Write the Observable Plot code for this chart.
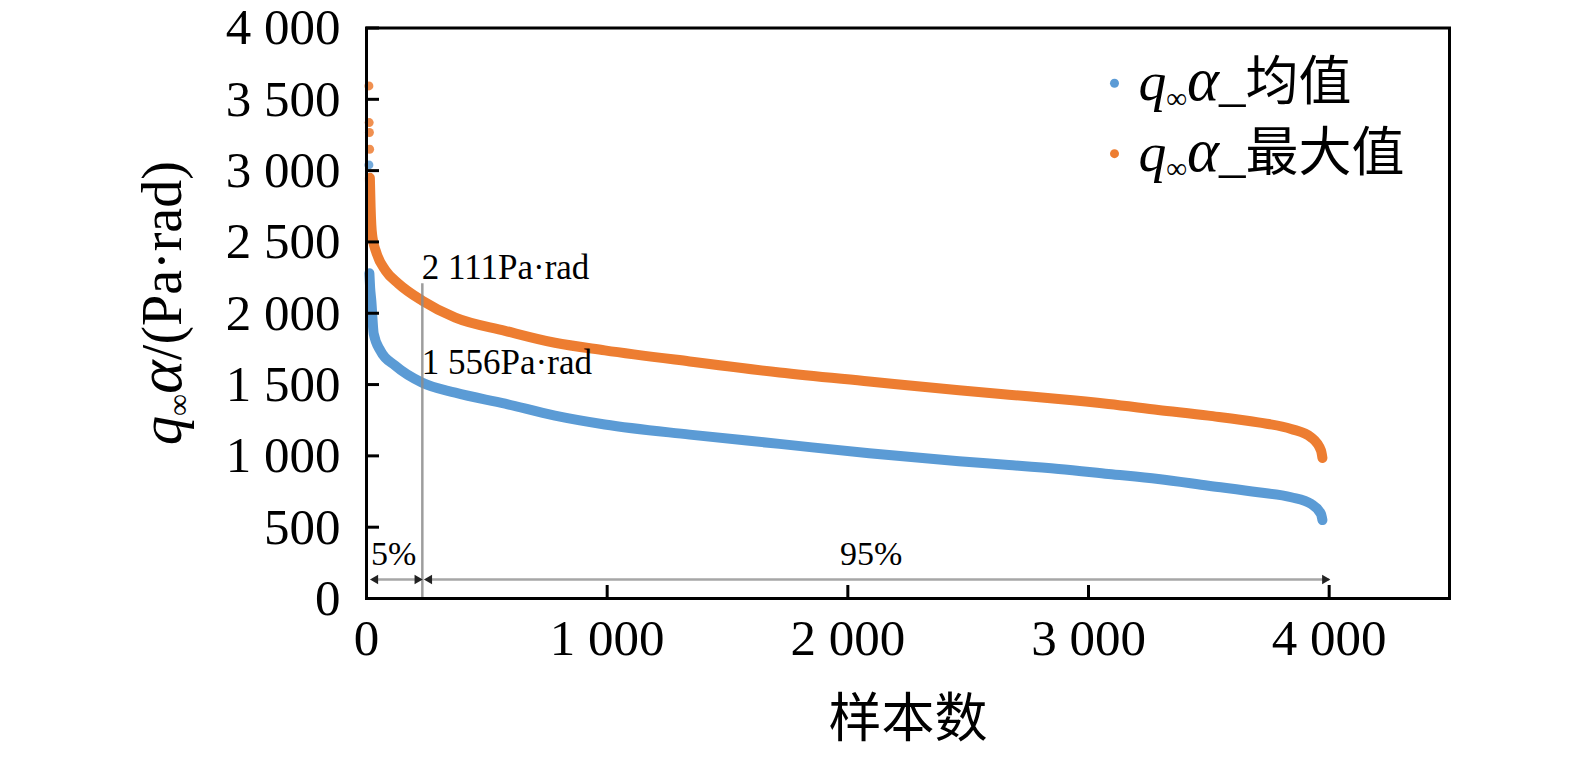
<!DOCTYPE html>
<html><head><meta charset="utf-8">
<script src="https://cdn.jsdelivr.net/npm/d3@7"></script>
<script src="https://cdn.jsdelivr.net/npm/@observablehq/plot@0.6"></script>
<style>body{margin:0;background:#fff}</style>
</head><body><div id="chart"></div>
<script>
// ---- data ----
const maxSamples = [14,17,20,25,40,79,133,232,369,576,783,990,1343,1716,2089,2462,2669,2876,3083,3290,3498,3705,3842,3925,3966,3972];
const maxValues  = [2950,2750,2620,2530,2430,2300,2207,2088,1969,1877,1793,1740,1662,1585,1522,1460,1429,1399,1364,1322,1282,1235,1189,1130,1037,985];
const maxTopSamples = [10,11,12,13];
const maxTopValues  = [3594,3337,3267,3150];

const meanSamples = [12,15,20,30,58,120,232,369,576,783,990,1343,1716,2089,2462,2669,2876,3083,3290,3498,3705,3842,3925,3966,3972];
const meanValues  = [2280,2180,2088,1856,1737,1632,1513,1443,1366,1282,1220,1149,1084,1018,962,936,908,873,838,791,745,710,663,593,550];
const meanTopSamples = [10];
const meanTopValues  = [3040];

const xTicks = [0,1000,2000,3000,4000];
const yTicks = [0,500,1000,1500,2000,2500,3000,3500,4000];

const seriesNames = ["q∞α_均值", "q∞α_最大值"];
const seriesColors = ["#5B9BD5", "#ED7D31"];
const legendX = 3108;
const legendY = [3613, 3119];

const guideSample = 232, guideTop = 2207;
const guideLabels = ["2 111Pa·rad", "1 556Pa·rad"];
const guideLabelY = [2240, 1574];
const guideLabelX = 230;

const spanLabels = ["5%", "95%"];
const spanLabelX = [113, 2097];
const spanLabelY = 308;
const spanY = 133;
const spanStarts = [24, 249];
const spanEnds = [224, 4000];
const headsLeft = [37, 261];
const headsRight = [211, 3982];

const xTitle = "样本数";
const yTitle = "q∞α/(Pa·rad)";

// ---- build tables ----
const maxData = maxSamples.map((s, i) => ({s, v: maxValues[i]}));
const meanData = meanSamples.map((s, i) => ({s, v: meanValues[i]}));
const maxTop = maxTopSamples.map((s, i) => ({s, v: maxTopValues[i]}));
const meanTop = meanTopSamples.map((s, i) => ({s, v: meanTopValues[i]}));
const legend = seriesNames.map((n, i) => ({n, c: seriesColors[i], y: legendY[i]}));
const spans = spanStarts.map((a, i) => ({a, b: spanEnds[i]}));
const fmt = d => d3.format(",")(d).replace(/,/g, " ");

const plot = Plot.plot({
  width: 1575, height: 761,
  marginLeft: 366, marginRight: 126, marginTop: 27.5, marginBottom: 163,
  style: {fontFamily: "'Liberation Serif', 'Noto Sans CJK SC', serif", background: "white", color: "black"},
  x: {domain: [0, 4500]},
  y: {domain: [0, 4000]},
  marks: [
    Plot.line(meanData, {x: "s", y: "v", stroke: seriesColors[0], strokeWidth: 10, strokeLinecap: "round", strokeLinejoin: "round", curve: "monotone-x"}),
    Plot.line(maxData, {x: "s", y: "v", stroke: seriesColors[1], strokeWidth: 10, strokeLinecap: "round", strokeLinejoin: "round", curve: "monotone-x"}),
    Plot.dot(meanTop, {x: "s", y: "v", r: 4.5, fill: seriesColors[0], fillOpacity: 0.85}),
    Plot.dot(maxTop, {x: "s", y: "v", r: 4.5, fill: seriesColors[1], fillOpacity: 0.85}),
    // guide line and labels
    Plot.ruleX([guideSample], {y1: 0, y2: guideTop, stroke: "#8c8c8c", strokeOpacity: 0.85, strokeWidth: 2.5}),
    Plot.text(guideLabels, {x: guideLabelX, y: (d, i) => guideLabelY[i], text: d => d, textAnchor: "start", lineAnchor: "bottom", fontSize: 35}),
    // span arrows
    Plot.link(spans, {x1: "a", x2: "b", y1: spanY, y2: spanY, stroke: "#a6a6a6", strokeWidth: 2.5}),
    Plot.dot(headsLeft, {x: d => d, y: spanY, symbol: "triangle", r: 3.5, rotate: -90, fill: "#222", stroke: "none"}),
    Plot.dot(headsRight, {x: d => d, y: spanY, symbol: "triangle", r: 3.5, rotate: 90, fill: "#222", stroke: "none"}),
    Plot.text(spanLabels, {x: (d, i) => spanLabelX[i], y: spanLabelY, text: d => d, fontSize: 34, lineAnchor: "middle"}),
    // legend
    Plot.dot(legend, {x: legendX, y: "y", r: 4.5, fill: "c", stroke: "none"}),
    Plot.text(legend, {x: legendX, y: "y", text: "n", dx: 24, textAnchor: "start", lineAnchor: "middle", fontSize: 53}),
    // frame and axes
    Plot.frame({stroke: "black", strokeWidth: 3}),
    Plot.axisX({ticks: xTicks, tickSize: -13, tickPadding: 33, strokeWidth: 3, fontSize: 51, tickFormat: fmt, label: null}),
    Plot.axisY({ticks: yTicks, tickSize: -13, tickPadding: 39, strokeWidth: 3, fontSize: 51, tickFormat: fmt, label: null}),
    Plot.text([xTitle], {frameAnchor: "bottom", dy: 122, text: d => d, fontSize: 53, lineAnchor: "middle"}),
    Plot.text([yTitle], {frameAnchor: "left", dx: -203, dy: -10, rotate: -90, text: d => d, textAnchor: "middle", fontSize: 56, lineAnchor: "middle"})
  ]
});
document.getElementById("chart").appendChild(plot);

// rich formatting: italic q, subscript ∞, italic α
d3.select(plot).selectAll("text").each(function() {
  const s = this.textContent;
  if (!s.startsWith("q∞α")) return;
  const fs = parseFloat(this.getAttribute("font-size") || getComputedStyle(this).fontSize) || 48;
  const rest = s.slice(3);
  this.textContent = "";
  const t = d3.select(this);
  t.append("tspan").attr("font-style", "italic").attr("font-size", fs * 1.05).text("q");
  t.append("tspan").attr("font-size", fs * 0.55).attr("dy", fs * 0.14).text("∞");
  t.append("tspan").attr("font-style", "italic").attr("font-size", fs * 1.15).attr("dy", -fs * 0.14).text("α");
  t.append("tspan").text(rest);
});
</script>
</body></html>
